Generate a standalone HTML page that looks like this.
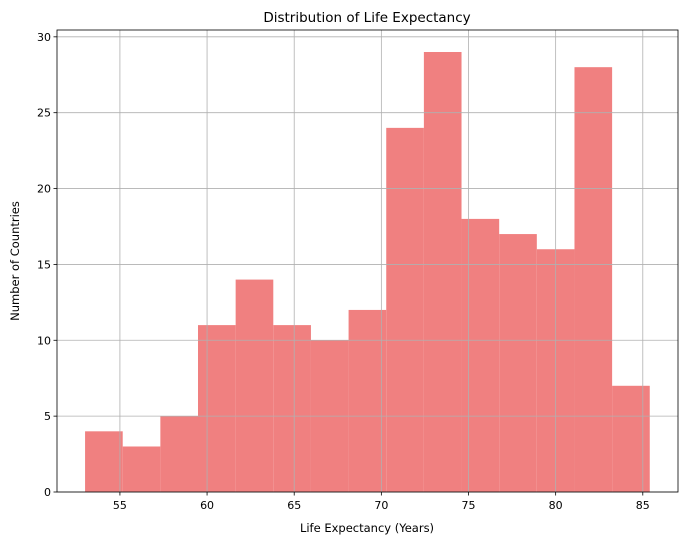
<!DOCTYPE html>
<html><head><meta charset="utf-8"><style>
body{margin:0;background:#fff;}
svg text{font-family:"DejaVu Sans","Liberation Sans",sans-serif;fill:#000;}
</style></head><body>
<svg id="chart" width="687" height="545" xmlns="http://www.w3.org/2000/svg">
<rect width="687" height="545" fill="#fff"/>
<g id="bars"></g>
<g id="grid"></g>
<g id="axes"></g>
<text x="367" y="22" font-size="13.5" text-anchor="middle">Distribution of Life Expectancy</text>
<text x="367" y="532" font-size="11.5" text-anchor="middle">Life Expectancy (Years)</text>
<text x="19" y="261" font-size="11.5" text-anchor="middle" transform="rotate(-90 19 261)">Number of Countries</text>
</svg>
<script>
const binStart = 53.0;
const binEnd = 85.4;
const counts = [4,3,5,11,14,11,10,12,24,29,18,17,16,28,7];
const xTicks = [55,60,65,70,75,80,85];
const yTicks = [0,5,10,15,20,25,30];

const L=57,R=678,T=30,B=492;
const xMin=51.39,xMax=87.02,yMin=0,yMax=30.45;
const xs=v=>L+(v-xMin)/(xMax-xMin)*(R-L);
const ys=v=>B-(v-yMin)/(yMax-yMin)*(B-T);
const NS="http://www.w3.org/2000/svg";
function mk(tag,attrs,parent){const e=document.createElementNS(NS,tag);for(const k in attrs)e.setAttribute(k,attrs[k]);parent.appendChild(e);return e;}
const bars=document.getElementById('bars'),grid=document.getElementById('grid'),axes=document.getElementById('axes');
const w=(binEnd-binStart)/counts.length;
counts.forEach((c,i)=>{
  const x0=xs(binStart+i*w),x1=xs(binStart+(i+1)*w);
  const r=mk('rect',{x:x0,y:ys(c),width:x1-x0,height:ys(0)-ys(c),fill:'#f08080'},bars);
  
  
});
xTicks.forEach(t=>{
  const x=xs(t);
  const g=mk('line',{x1:x,x2:x,y1:T,y2:B,stroke:'#b0b0b0','stroke-width':0.8},grid);
  
  
  mk('line',{x1:x,x2:x,y1:B,y2:B+3.5,stroke:'#000','stroke-width':0.8},axes);
  const tx=mk('text',{x:x,y:B+17,'font-size':11,'text-anchor':'middle'},axes);
  tx.textContent=t;
  
  
});
yTicks.forEach(t=>{
  const y=ys(t);
  const g=mk('line',{x1:L,x2:R,y1:y,y2:y,stroke:'#b0b0b0','stroke-width':0.8},grid);
  
  
  mk('line',{x1:L-3.5,x2:L,y1:y,y2:y,stroke:'#000','stroke-width':0.8},axes);
  const tx=mk('text',{x:L-6,y:y+4,'font-size':11,'text-anchor':'end'},axes);
  tx.textContent=t;
  
  
});
const frame=mk('rect',{x:L,y:T,width:R-L,height:B-T,fill:'none',stroke:'#000','stroke-width':0.8},axes);


</script>
</body></html>
